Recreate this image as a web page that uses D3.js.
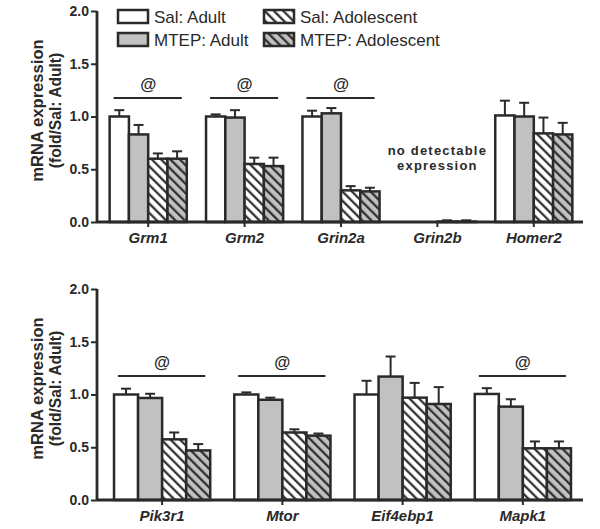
<!DOCTYPE html>
<html><head><meta charset="utf-8">
<script src="https://cdn.jsdelivr.net/npm/d3@7/dist/d3.min.js"></script>
<style>body{margin:0;background:#fff}svg{display:block}text{font-family:"Liberation Sans",Arial,sans-serif;fill:#2a2a2a}</style>
</head><body>
<script>
const seriesNames = ["Sal: Adult", "MTEP: Adult", "Sal: Adolescent", "MTEP: Adolescent"];
const yTicks = [0, 0.5, 1.0, 1.5, 2.0];

const topGenes = ["Grm1", "Grm2", "Grin2a", "Grin2b", "Homer2"];
const topSalAdult = [1.00, 1.00, 1.00, null, 1.01];
const topMtepAdult = [0.83, 0.99, 1.03, null, 1.00];
const topSalAdol = [0.60, 0.55, 0.30, 0.004, 0.84];
const topMtepAdol = [0.60, 0.53, 0.29, 0.004, 0.83];
const topSalAdultErr = [0.06, 0.02, 0.055, null, 0.14];
const topMtepAdultErr = [0.09, 0.07, 0.05, null, 0.13];
const topSalAdolErr = [0.05, 0.06, 0.04, 0.012, 0.15];
const topMtepAdolErr = [0.07, 0.08, 0.035, 0.012, 0.11];
const topSig = [true, true, true, false, false];

const botGenes = ["Pik3r1", "Mtor", "Eif4ebp1", "Mapk1"];
const botSalAdult = [1.00, 1.00, 1.00, 1.005];
const botMtepAdult = [0.967, 0.95, 1.17, 0.885];
const botSalAdol = [0.575, 0.64, 0.97, 0.49];
const botMtepAdol = [0.47, 0.61, 0.91, 0.49];
const botSalAdultErr = [0.055, 0.02, 0.13, 0.055];
const botMtepAdultErr = [0.04, 0.02, 0.19, 0.07];
const botSalAdolErr = [0.065, 0.03, 0.14, 0.065];
const botMtepAdolErr = [0.06, 0.02, 0.16, 0.065];
const botSig = [true, true, false, true];

const W = 600, H = 529;
const dark = "#2a2a2a", gray = "#c1c1c1";
const svg = d3.select("body").append("svg").attr("width", W).attr("height", H);

const defs = svg.append("defs");
function hatch(id, bg) {
  const p = defs.append("pattern").attr("id", id).attr("patternUnits", "userSpaceOnUse")
    .attr("width", 6.6).attr("height", 10).attr("patternTransform", "rotate(-45)");
  p.append("rect").attr("width", 6.6).attr("height", 10).attr("fill", bg);
  p.append("line").attr("x1", 1.2).attr("x2", 1.2).attr("y1", 0).attr("y2", 10)
    .attr("stroke", dark).attr("stroke-width", 2.2);
}
hatch("hw", "#fff");
hatch("hg", gray);
const fills = ["#fff", gray, "url(#hw)", "url(#hg)"];

function panel(cfg) {
  const { genes, vals, errs, sig, y0, y1, xr } = cfg;
  const y = d3.scaleLinear().domain([0, 2]).range([y0, y1]);
  const x = d3.scaleBand().domain(genes).range(xr).paddingInner(0.2).paddingOuter(0.1);
  const xs = d3.scaleBand().domain(d3.range(4)).range([0, x.bandwidth()]);
  const g = svg.append("g");
  const axL = 97, axR = 583;

  genes.forEach((gene, i) => {
    for (let s = 0; s < 4; s++) {
      const v = vals[s][i];
      if (v == null) continue;
      const bx = x(gene) + xs(s);
      const e = errs[s][i];
      if (e) {
        const cx = bx + xs.bandwidth() / 2;
        g.append("line").attr("x1", cx).attr("x2", cx).attr("y1", y(v)).attr("y2", y(v + e))
          .attr("stroke", dark).attr("stroke-width", 2);
        g.append("line").attr("x1", cx - 5).attr("x2", cx + 5).attr("y1", y(v + e)).attr("y2", y(v + e))
          .attr("stroke", dark).attr("stroke-width", 2);
      }
      g.append("rect").attr("x", bx).attr("y", y(v)).attr("width", xs.bandwidth())
        .attr("height", y(0) - y(v)).attr("fill", fills[s]).attr("stroke", dark).attr("stroke-width", 2.5);
    }
    if (sig[i]) {
      const ly = y(1.175);
      g.append("line").attr("x1", x(gene) + 4).attr("x2", x(gene) + x.bandwidth() - 5)
        .attr("y1", ly).attr("y2", ly).attr("stroke", dark).attr("stroke-width", 2);
      g.append("text").attr("x", x(gene) + x.bandwidth() / 2).attr("y", ly - 8)
        .attr("text-anchor", "middle").attr("font-size", 16.5).attr("font-weight", "bold").text("@");
    }
  });

  const ya = g.append("g").attr("transform", `translate(${axL},0)`)
    .call(d3.axisLeft(y).tickValues(yTicks).tickFormat(d3.format(".1f")).tickSize(6).tickPadding(2));
  ya.select(".domain").attr("stroke", dark).attr("stroke-width", 2.8).attr("d", `M0,${y1}V${y0}`);
  ya.selectAll(".tick line").attr("stroke", dark).attr("stroke-width", 2);
  ya.selectAll(".tick text").attr("font-size", 14).attr("font-weight", "bold").attr("fill", dark)
    .attr("font-family", "Liberation Sans, Arial, sans-serif");

  const xa = g.append("g").attr("transform", `translate(0,${y0})`)
    .call(d3.axisBottom(x).tickSize(5).tickPadding(5));
  xa.select(".domain").attr("stroke", dark).attr("stroke-width", 2.8).attr("d", `M${axL},0H${axR}`);
  xa.selectAll(".tick line").attr("stroke", dark).attr("stroke-width", 2);
  xa.selectAll(".tick text").attr("font-size", 15).attr("font-weight", "bold").attr("font-style", "italic")
    .attr("fill", dark).attr("font-family", "Liberation Sans, Arial, sans-serif");

  const cy = (y0 + y1) / 2 - 6;
  g.append("text").attr("transform", `translate(37.5,${cy}) rotate(-90)`).attr("text-anchor", "middle")
    .attr("dominant-baseline", "central").attr("font-size", 16.6).attr("font-weight", "bold").text("mRNA expression");
  g.append("text").attr("transform", `translate(55,${cy}) rotate(-90)`).attr("text-anchor", "middle")
    .attr("dominant-baseline", "central").attr("font-size", 15.6).attr("font-weight", "bold").text("(fold/Sal: Adult)");
  return { x, y };
}

const topPanel = panel({
  genes: topGenes,
  vals: [topSalAdult, topMtepAdult, topSalAdol, topMtepAdol],
  errs: [topSalAdultErr, topMtepAdultErr, topSalAdolErr, topMtepAdolErr],
  sig: topSig, y0: 222, y1: 11, xr: [100, 582]
});
panel({
  genes: botGenes,
  vals: [botSalAdult, botMtepAdult, botSalAdol, botMtepAdol],
  errs: [botSalAdultErr, botMtepAdultErr, botSalAdolErr, botMtepAdolErr],
  sig: botSig, y0: 500, y1: 289, xr: [102, 583]
});

const nx = topPanel.x("Grin2b") + topPanel.x.bandwidth() / 2;
svg.append("text").attr("x", nx).attr("y", 155).attr("text-anchor", "middle").attr("font-size", 13)
  .attr("font-weight", "bold").attr("letter-spacing", 1.2).text("no detectable");
svg.append("text").attr("x", nx).attr("y", 170).attr("text-anchor", "middle").attr("font-size", 13)
  .attr("font-weight", "bold").attr("letter-spacing", 1.2).text("expression");

const legPos = [[118, 10], [118, 33], [264, 10], [264, 33]];
seriesNames.forEach((n, i) => {
  const [lx, ly] = legPos[i];
  svg.append("rect").attr("x", lx).attr("y", ly).attr("width", 30).attr("height", 13)
    .attr("fill", fills[i]).attr("stroke", dark).attr("stroke-width", 2.5);
  svg.append("text").attr("x", lx + 36).attr("y", ly + 13).attr("font-size", 17).text(n);
});
</script>
</body></html>
